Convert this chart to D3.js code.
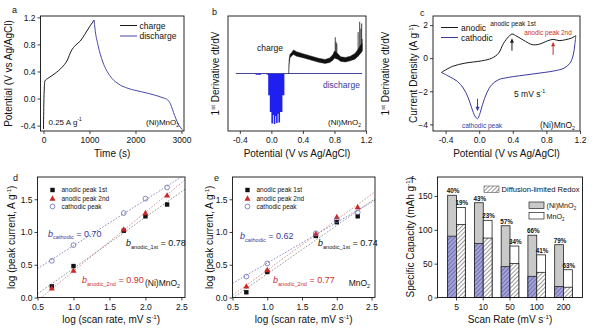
<!DOCTYPE html>
<html>
<head>
<meta charset="utf-8">
<script src="https://cdn.jsdelivr.net/npm/d3@7"></script>
<style>
  html, body { margin: 0; padding: 0; background: #fff; }
  svg { display: block; }
  text { font-family: "Liberation Sans", Arial, Helvetica, sans-serif; fill: #111; }
</style>
</head>
<body>
<svg id="fig" width="600" height="333"></svg>
<script>
// ---------- (a) galvanostatic charge / discharge, 0.25 A/g ----------
const gcdChargeTime = [0, 10, 30, 100, 250, 400, 520, 600, 700, 800, 900, 1000, 1100];
const gcdChargeV    = [-0.45, 0.0, 0.26, 0.30, 0.37, 0.46, 0.57, 0.70, 0.79, 0.85, 0.95, 1.06, 1.16];
const gcdDischargeTime = [1100, 1120, 1185, 1290, 1440, 1620, 1840, 2130, 2420, 2600, 2700, 2760, 2850, 2950, 3020];
const gcdDischargeV    = [1.16, 1.03, 0.79, 0.54, 0.34, 0.22, 0.15, 0.10, 0.05, 0.01, -0.02, -0.08, -0.25, -0.40, -0.46];
const gcdTimeTicks = [0, 1000, 2000, 3000];
const gcdPotTicks = [-0.4, 0.0, 0.4, 0.8, 1.2];

// ---------- (b) first derivative dt/dV (arbitrary units) ----------
const potTicks = [-0.4, 0.0, 0.4, 0.8, 1.2];
const dvChargePot = [0.220, 0.224, 0.235, 0.26, 0.28, 0.32, 0.40, 0.50, 0.60, 0.68, 0.74, 0.78, 0.80, 0.84, 0.88, 0.94, 1.00, 1.06, 1.10, 1.13, 1.15];
const dvChargeHi  = [0.00, 0.24, 0.33, 0.37, 0.41, 0.38, 0.345, 0.305, 0.265, 0.245, 0.27, 0.33, 0.39, 0.35, 0.29, 0.28, 0.30, 0.35, 0.42, 0.49, 0.53];
const dvChargeLo  = [0.00, 0.14, 0.27, 0.31, 0.33, 0.30, 0.275, 0.235, 0.195, 0.175, 0.19, 0.23, 0.27, 0.25, 0.21, 0.20, 0.22, 0.25, 0.30, 0.35, 0.39];
const dvSpikePot  = [0.81, 0.82, 0.83, 1.10, 1.12, 1.135, 1.145, 1.15];
const dvSpikeTop  = [0.63, 0.55, 0.52, 0.72, 0.90, 0.78, 0.87, 0.60];
const dvDisPot = [-0.45, -0.20, -0.13, -0.06, -0.04, -0.02, 0.00, 0.02, 0.03, 0.05, 0.06, 0.08, 0.09, 0.11, 0.14, 0.165, 1.15];
const dvDisVal = [0, -0.02, 0, -0.02, -0.38, -0.67, -0.87, -0.72, -0.88, -0.74, -0.86, -0.70, -0.85, -0.67, -0.38, 0, 0];

// ---------- (c) cyclic voltammogram, 5 mV/s ----------
const cvAnodicV = [-0.45, -0.32, -0.17, 0.03, 0.15, 0.23, 0.29, 0.35, 0.39, 0.45, 0.55, 0.63, 0.71, 0.81, 0.88, 0.95, 1.03, 1.10, 1.15];
const cvAnodicI = [-0.86, -0.50, -0.30, -0.16, 0.0, 0.30, 0.90, 1.30, 1.46, 1.32, 1.02, 0.82, 0.84, 1.04, 1.14, 1.06, 1.12, 1.22, 1.36];
const cvCathodicV = [1.15, 1.14, 1.12, 1.08, 1.01, 0.90, 0.63, 0.35, 0.23, 0.15, 0.09, 0.04, 0.005, -0.02, -0.05, -0.09, -0.13, -0.19, -0.26, -0.36, -0.45];
const cvCathodicI = [1.36, 0.90, 0.20, -0.30, -0.60, -0.76, -0.96, -1.16, -1.30, -1.60, -2.10, -2.80, -3.40, -3.66, -3.50, -3.00, -2.40, -1.80, -1.40, -1.10, -0.86];
const cvCurrentTicks = [-4, -2, 0, 2];

// ---------- (d, e) log peak current vs log scan rate ----------
const scanRates = [5, 10, 50, 100, 200];
const logRateTicks = [0.5, 1.0, 1.5, 2.0, 2.5];
const logCurrentTicks = [0.0, 0.5, 1.0, 1.5];
const niAnodic1st = [0.17, 0.48, 1.02, 1.24, 1.42];
const niAnodic2nd = [0.14, 0.41, 1.04, 1.29, 1.56];
const niCathodic  = [0.56, 0.80, 1.29, 1.51, 1.68];
const niSlopes = { anodic1: 0.78, anodic2: 0.90, cathodic: 0.70 };
const mnAnodic1st = [0.08, 0.39, 0.94, 1.15, 1.24];
const mnAnodic2nd = [0.17, 0.42, 0.97, 1.23, 1.38];
const mnCathodic  = [0.32, 0.52, 0.98, 1.18, 1.30];
const mnSlopes = { anodic1: 0.74, anodic2: 0.77, cathodic: 0.62 };

// ---------- (f) specific capacity and capacitive share ----------
const rateLabels = ["5", "10", "50", "100", "200"];
const niTotalCap = [151, 140, 106, 92, 78];
const niCapacitivePct = [40, 43, 57, 66, 79];
const mnTotalCap = [133, 114, 76, 63, 41];
const mnCapacitivePct = [19, 23, 34, 41, 63];
const capTicks = [0, 50, 100, 150];

// ====================================================================
const svg = d3.select("#fig");
const defs = svg.append("defs");

const BLUE = "#3a3a9c";
const RED = "#c92f2f";
const TICK_FS = 8.5, TITLE_FS = 10;

function hatch(id, bg, line) {
  const p = defs.append("pattern").attr("id", id).attr("patternUnits", "userSpaceOnUse")
    .attr("width", 3).attr("height", 3).attr("patternTransform", "rotate(45)");
  p.append("rect").attr("width", 3).attr("height", 3).attr("fill", bg);
  p.append("line").attr("x1", 0.5).attr("y1", 0).attr("x2", 0.5).attr("y2", 3)
    .attr("stroke", line).attr("stroke-width", 0.9);
}
hatch("hatchBlue", "#a3a3da", "#6a6aae");
hatch("hatchGray", "#ffffff", "#8f8f8f");

let clipCount = 0;
function clipFor(box) {
  const id = "clip" + (clipCount++);
  defs.append("clipPath").attr("id", id).append("rect")
    .attr("x", box.x0).attr("y", box.y0).attr("width", box.x1 - box.x0).attr("height", box.y1 - box.y0);
  return "url(#" + id + ")";
}

// text made of normal / italic / sub / sup pieces
function richText(parent, x, y, parts, size, opt = {}) {
  const t = parent.append("text").attr("x", x).attr("y", y).attr("font-size", size);
  if (opt.anchor) t.attr("text-anchor", opt.anchor);
  if (opt.fill) t.style("fill", opt.fill);
  if (opt.weight) t.attr("font-weight", opt.weight);
  let off = 0;
  parts.forEach(p => {
    const str = Array.isArray(p) ? p[0] : p;
    const kind = Array.isArray(p) ? p[1] : "n";
    let target = 0, fs = size;
    if (kind === "sub") { target = size * 0.3; fs = size * 0.62; }
    else if (kind === "sup") { target = -size * 0.38; fs = size * 0.62; }
    const s = t.append("tspan").attr("font-size", fs).text(str);
    if (target - off !== 0) s.attr("dy", target - off);
    if (kind === "i") s.attr("font-style", "italic");
    off = target;
  });
  return t;
}

function yTitle(cx, cy, parts) {
  const g = svg.append("g").attr("transform", `translate(${cx},${cy}) rotate(-90)`);
  richText(g, 0, 0, parts, TITLE_FS, { anchor: "middle" });
}

function axes(box, x, y, xTicks, yTicks, xFmt, yFmt) {
  const gx = svg.append("g").attr("transform", `translate(0,${box.y1})`)
    .call(d3.axisBottom(x).tickValues(xTicks).tickFormat(xFmt).tickSizeInner(3).tickSizeOuter(0).tickPadding(3));
  const gy = svg.append("g").attr("transform", `translate(${box.x0},0)`);
  if (yTicks) gy.call(d3.axisLeft(y).tickValues(yTicks).tickFormat(yFmt).tickSizeInner(3).tickSizeOuter(0).tickPadding(2));
  [gx, gy].forEach(g => {
    g.select(".domain").remove();
    g.selectAll("line").attr("stroke", "#111").attr("stroke-width", 0.8);
    g.selectAll("text").attr("font-size", TICK_FS).attr("font-family", null);
  });
  svg.append("rect").attr("x", box.x0).attr("y", box.y0)
    .attr("width", box.x1 - box.x0).attr("height", box.y1 - box.y0)
    .attr("fill", "none").attr("stroke", "#111").attr("stroke-width", 0.9);
}

function letter(x, y, s) {
  svg.append("text").attr("x", x).attr("y", y).attr("font-size", 9).text(s);
}

function arrow(x, yFrom, yTo, color) {
  const dir = yTo < yFrom ? -1 : 1;
  svg.append("line").attr("x1", x).attr("y1", yFrom).attr("x2", x).attr("y2", yTo - dir * 3)
    .attr("stroke", color).attr("stroke-width", 1);
  svg.append("path")
    .attr("d", `M${x},${yTo} L${x - 2},${yTo - dir * 4.5} L${x + 2},${yTo - dir * 4.5} Z`)
    .attr("fill", color);
}

const fmt1 = d => d.toFixed(1);
const zip = (a, b) => a.map((v, i) => [v, b[i]]);

// ============================ (a) ============================
{
  const box = { x0: 40.5, x1: 184, y0: 16, y1: 131 };
  const x = d3.scaleLinear().domain([-65, 3055]).range([box.x0, box.x1]);
  const y = d3.scaleLinear().domain([-0.48, 1.22]).range([box.y1, box.y0]);
  const g = svg.append("g").attr("clip-path", clipFor(box));
  const line = d3.line().x(d => x(d[0])).y(d => y(d[1])).curve(d3.curveMonotoneX);
  g.append("path").attr("d", line(zip(gcdChargeTime, gcdChargeV)))
    .attr("fill", "none").attr("stroke", "#1a1a1a").attr("stroke-width", 1);
  g.append("path").attr("d", line(zip(gcdDischargeTime, gcdDischargeV)))
    .attr("fill", "none").attr("stroke", "#4848a8").attr("stroke-width", 1);
  axes(box, x, y, gcdTimeTicks, gcdPotTicks, d3.format("d"), fmt1);

  // legend
  svg.append("line").attr("x1", 120).attr("x2", 137).attr("y1", 25.5).attr("y2", 25.5).attr("stroke", "#1a1a1a");
  svg.append("text").attr("x", 139.5).attr("y", 28.5).attr("font-size", 8.5).text("charge");
  svg.append("line").attr("x1", 120).attr("x2", 137).attr("y1", 36).attr("y2", 36).attr("stroke", "#4848a8");
  svg.append("text").attr("x", 139.5).attr("y", 39).attr("font-size", 8.5).text("discharge");

  richText(svg, 48.5, 124.5, [["0.25 A g", "n"], ["-1", "sup"]], 8);
  richText(svg, 179, 124.5, [["(Ni)MnO", "n"], ["2", "sub"]], 8, { anchor: "end" });

  richText(svg, (box.x0 + box.x1) / 2, 157, ["Time (s)"], TITLE_FS, { anchor: "middle" });
  yTitle(12, (box.y0 + box.y1) / 2, ["Potential (V vs Ag/AgCl)"]);
  letter(12, 13, "a");
}

// ============================ (b) ============================
{
  const box = { x0: 228, x1: 366, y0: 16, y1: 131 };
  const x = d3.scaleLinear().domain([-0.55, 1.2]).range([box.x0, box.x1]);
  const y = d3.scaleLinear().domain([-1, 1]).range([box.y1, box.y0]);
  const g = svg.append("g").attr("clip-path", clipFor(box));

  // discharge trace (negative lobe)
  const disArea = d3.area().x(d => x(d[0])).y0(y(0)).y1(d => y(d[1])).curve(d3.curveStepAfter);
  g.append("path").attr("d", disArea(zip(dvDisPot, dvDisVal))).attr("fill", "#1f1ff0");
  g.append("line").attr("x1", x(-0.45)).attr("x2", x(1.15)).attr("y1", y(0)).attr("y2", y(0))
    .attr("stroke", "#44449e").attr("stroke-width", 1.1);

  // charge trace (noisy positive band)
  const band = d3.area().x(d => x(d[0])).y0(d => y(d[1])).y1(d => y(d[2]));
  g.append("path").attr("d", band(dvChargePot.map((p, i) => [p, dvChargeLo[i], dvChargeHi[i]])))
    .attr("fill", "#111").attr("stroke", "#111").attr("stroke-width", 0.4);
  const loAt = d3.scaleLinear().domain(dvChargePot).range(dvChargeLo);
  dvSpikePot.forEach((p, i) => {
    g.append("line").attr("x1", x(p)).attr("x2", x(p)).attr("y1", y(loAt(p))).attr("y2", y(dvSpikeTop[i]))
      .attr("stroke", "#111").attr("stroke-width", 0.8);
  });

  axes(box, x, y, potTicks, null, fmt1, null);
  svg.append("text").attr("x", 257).attr("y", 50.5).attr("font-size", 8.5).text("charge");
  svg.append("text").attr("x", 323).attr("y", 87.5).attr("font-size", 8.5).style("fill", BLUE).text("discharge");
  richText(svg, 361, 124.5, [["(Ni)MnO", "n"], ["2", "sub"]], 8, { anchor: "end" });

  richText(svg, (box.x0 + box.x1) / 2, 157, ["Potential (V vs Ag/AgCl)"], TITLE_FS, { anchor: "middle" });
  const dParts = [["1", "n"], ["st", "sup"], [" Derivative dt/dV", "n"]];
  yTitle(219, (box.y0 + box.y1) / 2, dParts);
  yTitle(388.5, (box.y0 + box.y1) / 2, dParts);
  letter(212, 15, "b");
}

// ============================ (c) ============================
{
  const box = { x0: 433, x1: 580, y0: 16, y1: 131 };
  const x = d3.scaleLinear().domain([-0.55, 1.2]).range([box.x0, box.x1]);
  const y = d3.scaleLinear().domain([-4.4, 2.55]).range([box.y1, box.y0]);
  const g = svg.append("g").attr("clip-path", clipFor(box));
  const line = d3.line().x(d => x(d[0])).y(d => y(d[1])).curve(d3.curveCatmullRom.alpha(0.5));
  g.append("path").attr("d", line(zip(cvCathodicV, cvCathodicI)))
    .attr("fill", "none").attr("stroke", BLUE).attr("stroke-width", 1);
  g.append("path").attr("d", line(zip(cvAnodicV, cvAnodicI)))
    .attr("fill", "none").attr("stroke", "#1a1a1a").attr("stroke-width", 1);
  axes(box, x, y, potTicks, cvCurrentTicks, fmt1, d3.format("d"));

  // legend
  svg.append("line").attr("x1", 441).attr("x2", 458).attr("y1", 27.5).attr("y2", 27.5).attr("stroke", "#1a1a1a");
  svg.append("text").attr("x", 461).attr("y", 30.5).attr("font-size", 8.5).text("anodic");
  svg.append("line").attr("x1", 441).attr("x2", 458).attr("y1", 37.5).attr("y2", 37.5).attr("stroke", BLUE);
  svg.append("text").attr("x", 461).attr("y", 40.5).attr("font-size", 8.5).text("cathodic");

  // peak markers
  const iA = cvAnodicI.indexOf(d3.max(cvAnodicI.slice(0, 12)));
  const iC = cvCathodicI.indexOf(d3.min(cvCathodicI));
  arrow(x(cvAnodicV[iA]), y(0.45), y(1.2), "#1a1a1a");
  arrow(x(0.88), y(0.2), y(1.0), RED);
  arrow(x(cvCathodicV[iC]), y(-2.45), y(-3.2), BLUE);
  svg.append("text").attr("x", 513).attr("y", 25.5).attr("font-size", 6.5).attr("text-anchor", "middle").text("anodic peak 1st");
  svg.append("text").attr("x", 548).attr("y", 35).attr("font-size", 6.5).attr("text-anchor", "middle").style("fill", RED).text("anodic peak 2nd");
  svg.append("text").attr("x", 482).attr("y", 127.5).attr("font-size", 6.5).attr("text-anchor", "middle").style("fill", BLUE).text("cathodic peak");
  richText(svg, 514, 96.5, [["5 mV s", "n"], ["-1", "sup"]], 8.5);
  richText(svg, 575, 127.5, [["(Ni)MnO", "n"], ["2", "sub"]], 8.5, { anchor: "end" });

  richText(svg, (box.x0 + box.x1) / 2, 157, ["Potential (V vs Ag/AgCl)"], TITLE_FS, { anchor: "middle" });
  yTitle(417, (box.y0 + box.y1) / 2, [["Current Density (A g", "n"], ["-1", "sup"], [")", "n"]]);
  letter(420, 16, "c");
}

// ============================ (d, e) ============================
function kineticsPanel(box, a1, a2, cat, slopes, annot, tag, letterPos) {
  const x = d3.scaleLinear().domain([0.5, 2.55]).range([box.x0, box.x1]);
  const y = d3.scaleLinear().domain([0, 1.84]).range([box.y1, box.y0]);
  const lx = scanRates.map(r => Math.log10(r));
  const g = svg.append("g").attr("clip-path", clipFor(box));

  // fitted lines with the stated slope b through the centroid of each series
  const fit = (vals, b, color) => {
    const a = d3.mean(vals) - b * d3.mean(lx);
    g.append("line").attr("x1", x(0.5)).attr("x2", x(2.55))
      .attr("y1", y(a + b * 0.5)).attr("y2", y(a + b * 2.55))
      .attr("stroke", color).attr("stroke-width", 0.9).attr("stroke-dasharray", "1.6,1.6");
  };
  fit(cat, slopes.cathodic, "#7f7fbd");
  fit(a2, slopes.anodic2, "#d58a8a");
  fit(a1, slopes.anodic1, "#8a8a8a");

  const sq = (gg, cx, cy) => gg.append("rect").attr("x", cx - 2.2).attr("y", cy - 2.2).attr("width", 4.4).attr("height", 4.4).attr("fill", "#111");
  const tri = (gg, cx, cy) => gg.append("path").attr("d", `M${cx},${cy - 3.2} L${cx + 3},${cy + 2.2} L${cx - 3},${cy + 2.2} Z`).attr("fill", "#cc2626");
  const circ = (gg, cx, cy) => gg.append("circle").attr("cx", cx).attr("cy", cy).attr("r", 2.4).attr("fill", "none").attr("stroke", "#6a6ab4").attr("stroke-width", 0.8);

  lx.forEach((v, i) => sq(g, x(v), y(a1[i])));
  lx.forEach((v, i) => tri(g, x(v), y(a2[i])));
  lx.forEach((v, i) => circ(g, x(v), y(cat[i])));

  axes(box, x, y, logRateTicks, logCurrentTicks, fmt1, fmt1);

  // legend
  const lg = svg.append("g");
  const L = box.x0;
  sq(lg, L + 15, 190); tri(lg, L + 15, 198.5); circ(lg, L + 15, 206.5);
  [["anodic peak 1st", 190], ["anodic peak 2nd", 198.5], ["cathodic peak", 206.5]].forEach(([s, yy]) =>
    lg.append("text").attr("x", L + 24).attr("y", yy + 2.2).attr("font-size", 6.5).text(s));

  // slope annotations
  const fmtB = v => " = " + v.toFixed(2);
  richText(svg, annot.cat[0], annot.cat[1], [["b", "i"], ["cathodic", "sub"], [fmtB(slopes.cathodic), "n"]], 9, { fill: BLUE });
  richText(svg, annot.a1[0], annot.a1[1], [["b", "i"], ["anodic_1st", "sub"], [fmtB(slopes.anodic1), "n"]], 9, { fill: "#111" });
  richText(svg, annot.a2[0], annot.a2[1], [["b", "i"], ["anodic_2nd", "sub"], [fmtB(slopes.anodic2), "n"]], 9, { fill: RED });
  richText(svg, box.x1 - 5, 285.5, tag, 8.5, { anchor: "end" });

  richText(svg, (box.x0 + box.x1) / 2, 323, [["log (scan rate, mV s", "n"], ["-1", "sup"], [")", "n"]], TITLE_FS, { anchor: "middle" });
  letter(letterPos[0], letterPos[1], letterPos[2]);
  return { x, y };
}

{
  const box = { x0: 37.5, x1: 185, y0: 177, y1: 297.5 };
  kineticsPanel(box, niAnodic1st, niAnodic2nd, niCathodic, niSlopes,
    { cat: [48, 236.5], a1: [126, 246], a2: [82, 283] },
    [["(Ni)MnO", "n"], ["2", "sub"]], [13, 181, "d"]);
  yTitle(15, (box.y0 + box.y1) / 2, [["log (peak current, A g", "n"], ["-1", "sup"], [")", "n"]]);
}
{
  const box = { x0: 232.5, x1: 375, y0: 177, y1: 297.5 };
  kineticsPanel(box, mnAnodic1st, mnAnodic2nd, mnCathodic, mnSlopes,
    { cat: [240, 239], a1: [318, 246], a2: [273, 283] },
    [["MnO", "n"], ["2", "sub"]], [214, 181, "e"]);
  yTitle(212.5, (box.y0 + box.y1) / 2, [["log (peak current, A g", "n"], ["-1", "sup"], [")", "n"]]);
}

// ============================ (f) ============================
{
  const box = { x0: 437.5, x1: 582.5, y0: 177, y1: 297.5 };
  const x = d3.scaleBand().domain(rateLabels).range([box.x0, box.x1]).paddingInner(0.34).paddingOuter(0.38);
  const y = d3.scaleLinear().domain([0, 178]).range([box.y1, box.y0]);
  const bw = x.bandwidth() / 2;
  const g = svg.append("g");

  const series = [
    { total: niTotalCap, pct: niCapacitivePct, fill: "#c9c9c9", hatch: "url(#hatchBlue)", off: 0 },
    { total: mnTotalCap, pct: mnCapacitivePct, fill: "#ffffff", hatch: "url(#hatchGray)", off: bw }
  ];
  series.forEach(s => {
    rateLabels.forEach((r, i) => {
      const bx = x(r) + s.off;
      const tot = s.total[i];
      const diff = tot * (1 - s.pct[i] / 100);
      g.append("rect").attr("x", bx).attr("y", y(tot)).attr("width", bw).attr("height", y(0) - y(tot))
        .attr("fill", s.fill).attr("stroke", "#222").attr("stroke-width", 0.8);
      g.append("rect").attr("x", bx).attr("y", y(diff)).attr("width", bw).attr("height", y(0) - y(diff))
        .attr("fill", s.hatch).attr("stroke", "#222").attr("stroke-width", 0.8);
      g.append("text").attr("x", bx + bw / 2 + 1).attr("y", y(tot) - 2)
        .attr("text-anchor", "middle").attr("font-size", 6.3).attr("font-weight", "bold")
        .text(s.pct[i] + "%");
    });
  });

  axes(box, x, y, rateLabels, capTicks, d => d, d3.format("d"));

  // legend
  svg.append("rect").attr("x", 484).attr("y", 186).attr("width", 15).attr("height", 6.5)
    .attr("fill", "url(#hatchGray)").attr("stroke", "#555").attr("stroke-width", 0.6);
  svg.append("text").attr("x", 501.5).attr("y", 192.3).attr("font-size", 7.6).text("Diffusion-limited Redox");
  svg.append("rect").attr("x", 529).attr("y", 202).attr("width", 15).attr("height", 6.5)
    .attr("fill", "#c9c9c9").attr("stroke", "#222").attr("stroke-width", 0.7);
  richText(svg, 546.5, 208.3, [["(Ni)MnO", "n"], ["2", "sub"]], 7.2);
  svg.append("rect").attr("x", 529).attr("y", 212.5).attr("width", 15).attr("height", 6.5)
    .attr("fill", "#fff").attr("stroke", "#222").attr("stroke-width", 0.7);
  richText(svg, 546.5, 218.8, [["MnO", "n"], ["2", "sub"]], 7.2);

  richText(svg, (box.x0 + box.x1) / 2, 323, [["Scan Rate (mV s", "n"], ["-1", "sup"], [")", "n"]], TITLE_FS, { anchor: "middle" });
  yTitle(414, (box.y0 + box.y1) / 2, [["Specific Capacity (mAh g", "n"], ["-1", "sup"], [")", "n"]]);
  letter(411, 183, "f");
}
</script>
</body>
</html>
